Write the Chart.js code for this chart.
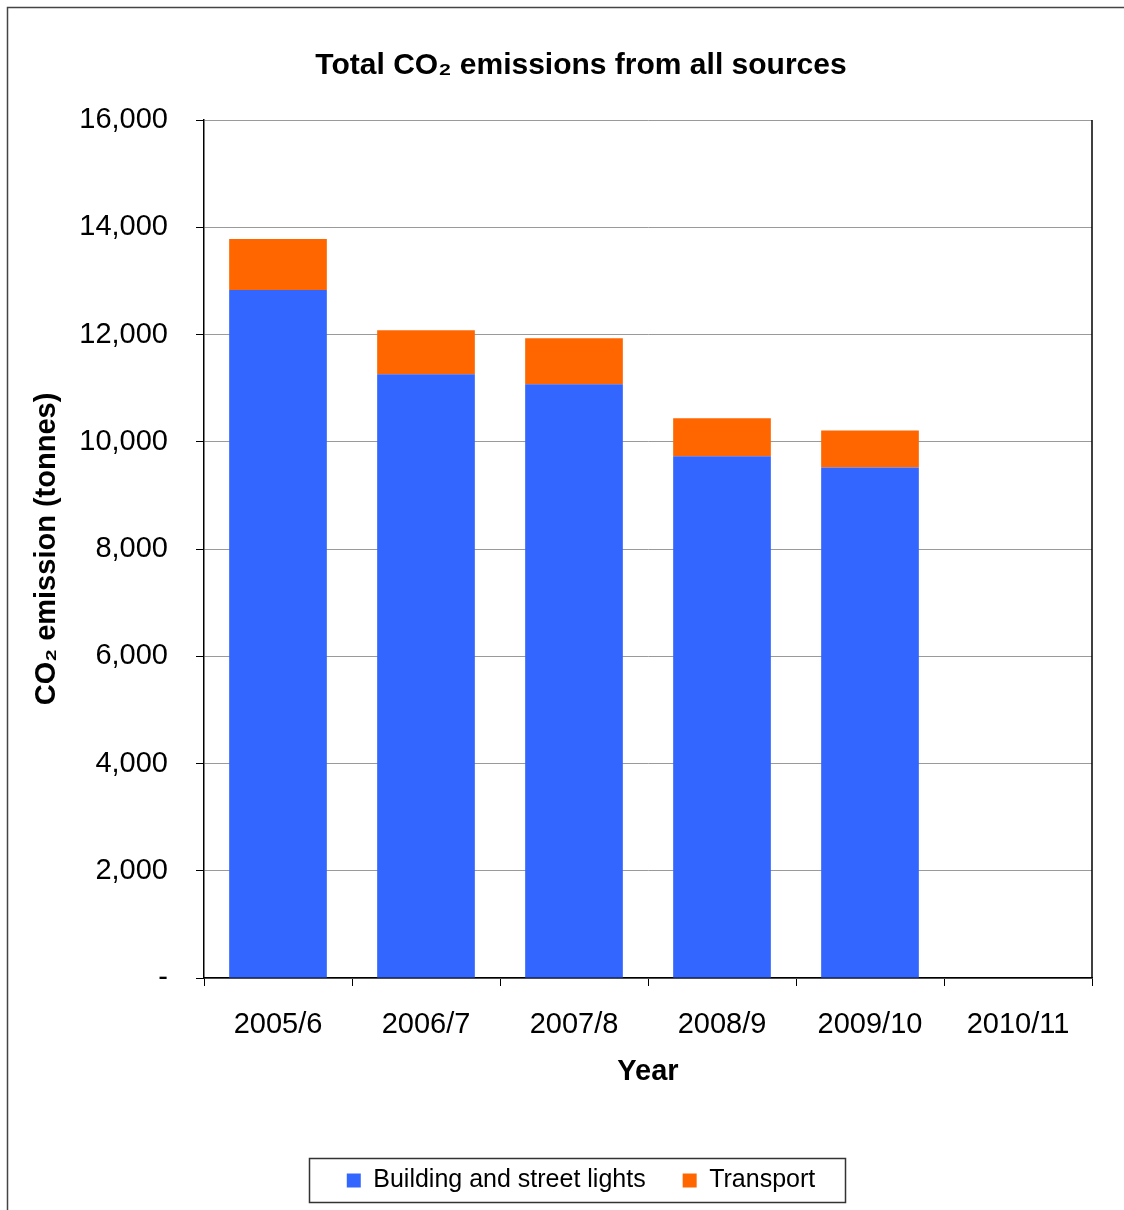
<!DOCTYPE html>
<html>
<head>
<meta charset="utf-8">
<script src="https://cdn.jsdelivr.net/npm/chart.js@4/dist/chart.umd.min.js"></script>
<style>
  html, body { margin: 0; padding: 0; background: #fff; }
  canvas { display: block; }
</style>
</head>
<body>
<canvas id="c" width="1124" height="1210"></canvas>
<script>
const categories = ["2005/6", "2006/7", "2007/8", "2008/9", "2009/10", "2010/11"];
const buildingValues = [12830, 11260, 11070, 9730, 9520, null];
const transportValues = [950, 820, 860, 710, 690, null];
const seriesNames = ["Building and street lights", "Transport"];
const yTickStep = 2000;
const yMax = 16000;

const FONT = "'Liberation Sans', Arial, Helvetica, sans-serif";

const framePlugin = {
  id: 'frame',
  afterDraw(chart) {
    const ctx = chart.ctx;
    const ca = chart.chartArea;
    ctx.save();
    // right border of plot area
    ctx.strokeStyle = '#000';
    ctx.lineWidth = 1.5;
    ctx.beginPath();
    ctx.moveTo(ca.right, ca.top);
    ctx.lineTo(ca.right, ca.bottom);
    ctx.stroke();
    // outer chart border (top & left visible)
    ctx.strokeStyle = '#444';
    ctx.lineWidth = 1.5;
    ctx.beginPath();
    ctx.moveTo(7.5, chart.height);
    ctx.lineTo(7.5, 7.5);
    ctx.lineTo(chart.width, 7.5);
    ctx.stroke();
    // legend border
    const lg = chart.legend;
    if (lg && lg.legendHitBoxes && lg.legendHitBoxes.length) {
      const hb = lg.legendHitBoxes;
      const first = hb[0], last = hb[hb.length - 1];
      const l = first.left - 38, r = last.left + last.width + 30;
      const t = first.top - 10, b = first.top + first.height + 9;
      ctx.strokeStyle = '#333';
      ctx.lineWidth = 1.5;
      ctx.strokeRect(Math.round(l) + 0.5, Math.round(t) + 0.5, Math.round(r - l), Math.round(b - t));
    }
    ctx.restore();
  }
};

new Chart(document.getElementById('c'), {
  type: 'bar',
  data: {
    labels: categories,
    datasets: [
      { label: seriesNames[0], data: buildingValues, backgroundColor: '#3366FF', borderWidth: 0 },
      { label: seriesNames[1], data: transportValues, backgroundColor: '#FF6600', borderWidth: 0 }
    ]
  },
  options: {
    responsive: false,
    devicePixelRatio: 1,
    animation: false,
    layout: { padding: { left: 70, right: 32, top: 0, bottom: 7 } },
    datasets: { bar: { barPercentage: 0.66, categoryPercentage: 1.0 } },
    plugins: {
      title: {
        display: true,
        text: 'Total CO\u2082 emissions from all sources',
        color: '#000',
        font: { family: FONT, size: 30, weight: 'bold' },
        padding: { top: 48, bottom: 36 }
      },
      legend: {
        display: true,
        position: 'bottom',
        labels: {
          color: '#000',
          font: { family: FONT, size: 25 },
          boxWidth: 14,
          boxHeight: 14,
          padding: 37
        }
      },
      tooltip: { enabled: false }
    },
    scales: {
      x: {
        stacked: true,
        afterFit(scale) { scale.height = 153; },
        grid: { display: true, drawOnChartArea: false, offset: true, tickLength: 8, tickColor: '#000' },
        border: { display: true, color: '#000', width: 1.5 },
        ticks: { color: '#000', font: { family: FONT, size: 29 }, padding: 22, maxRotation: 0, autoSkip: false },
        title: {
          display: true,
          text: 'Year',
          color: '#000',
          font: { family: FONT, size: 29, weight: 'bold' },
          padding: { top: 0, bottom: 42 }
        }
      },
      y: {
        stacked: true,
        min: 0,
        max: yMax,
        afterFit(scale) { scale.width = 134; },
        grid: { color: '#9a9a9a', lineWidth: 1, tickLength: 8, tickColor: '#000' },
        border: { display: true, color: '#000', width: 1.5 },
        ticks: {
          stepSize: yTickStep,
          color: '#000',
          font: { family: FONT, size: 29 },
          padding: 28,
          callback(v) { return v === 0 ? '-' : v.toLocaleString('en-US'); }
        },
        title: {
          display: true,
          text: 'CO\u2082 emission (tonnes)',
          color: '#000',
          font: { family: FONT, size: 29, weight: 'bold' },
          padding: { top: -40, bottom: 0 }
        }
      }
    }
  },
  plugins: [framePlugin]
});
</script>
</body>
</html>
